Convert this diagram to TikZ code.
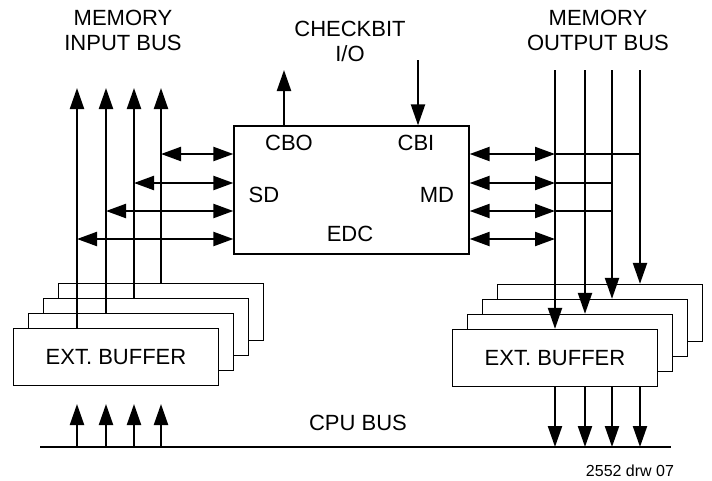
\documentclass[tikz,border=0pt]{standalone}
\usepackage{fontspec}
\setmainfont{Liberation Sans}
\usetikzlibrary{arrows.meta,positioning}

\begin{document}
\begin{tikzpicture}[
  x=1pt,y=-1pt,
  every node/.style={font=\fontsize{22}{25}\selectfont},
  unit/.style={draw,line width=1.3pt,fill=white,minimum width=205pt,
    minimum height=57pt,inner sep=0pt},
  bus/.style={line width=2.2pt},
  oneway/.style={bus,-{Triangle[length=21pt,width=14pt]}},
  twoway/.style={bus,
    {Triangle[length=20pt,width=14pt]}-{Triangle[length=20pt,width=14pt]}},
  caption/.style={align=center}
]
  \useasboundingbox (0,0) rectangle (712,480);

  \foreach \k/\d in {4/45,3/30,2/15} {
    \node[unit] (lbuf\k) at (116+\d,357-\d) {};
    \node[unit] (rbuf\k) at (555+\d,358-\d) {};
  }
  \node[unit] (lbuf1) at (116,357) {EXT. BUFFER};
  \node[unit] (rbuf1) at (555,358) {EXT. BUFFER};

  \node[draw,line width=1.3pt,minimum width=235pt,minimum height=128pt]
    (edc) at (351.5,190) {};
  \node (cbo) at (289,143) {CBO};
  \node (cbi) at (416,143) {CBI};
  \node (sd) at (264,195) {SD};
  \node (md) at (437,195) {MD};
  \node (edclbl) at (350,234) {EDC};

  \node[caption] (membusin) at (123,30) {MEMORY\\INPUT BUS};
  \node[caption] (chkio) at (350,41) {CHECKBIT\\I/O};
  \node[caption] (membusout) at (598,30) {MEMORY\\OUTPUT BUS};
  \node (cpubus) at (358,423) {CPU BUS};
  \node[font=\fontsize{16}{18}\selectfont] (drw) at (630,471) {2552 drw 07};

  \coordinate (cpul) at (40,447);
  \coordinate (cpur) at (671,447);
  \draw[bus] (cpul) -- (cpur);

  \coordinate (cbotop) at (284,70);
  \coordinate (cbitop) at (418,60);
  \draw[oneway] (edc.north -| cbotop) -- (cbotop);
  \draw[oneway] (cbitop) -- (cbitop |- edc.north);

  \foreach \k/\x/\y in {1/77/239,2/106/211,3/134/183,4/161/154} {
    \coordinate (li\k) at (\x,88);
    \coordinate (lc\k) at (\x,404);
    \coordinate (sd\k) at (\x,\y);
    \draw[oneway] (lbuf\k.north -| li\k) -- (li\k);
    \draw[twoway] (sd\k) -- (sd\k -| edc.west);
    \draw[oneway] (lc\k |- cpul) -- (lc\k);
  }

  \foreach \k/\x/\y in {1/555/154,2/585/183,3/612/211,4/640/239} {
    \coordinate (ro\k) at (\x,70);
    \coordinate (md\k) at (555,\y);
    \draw[oneway] (ro\k) -- (rbuf\k.north -| ro\k);
    \draw[oneway] (rbuf1.south -| ro\k) -- (ro\k |- cpul);
    \draw[twoway] (md\k -| edc.east) -- (md\k);
  }
  \draw[bus] (md1) -- (md1 -| ro4);
  \draw[bus] (md2) -- (md2 -| ro3);
  \draw[bus] (md3) -- (md3 -| ro3);
\end{tikzpicture}
\end{document}
